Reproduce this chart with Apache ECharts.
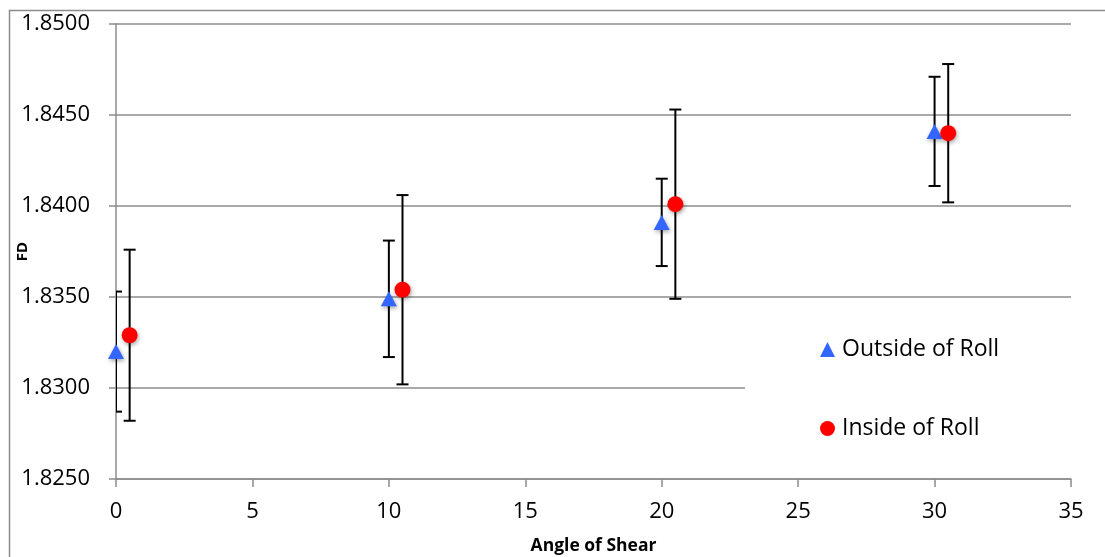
<!DOCTYPE html>
<html>
<head>
<meta charset="utf-8">
<script src="https://cdn.jsdelivr.net/npm/echarts@6/dist/echarts.min.js"></script>
<style>html,body{margin:0;padding:0;background:#fff}#c{width:1105px;height:557px}</style>
</head>
<body>
<div id="c"></div>
<script>
const xOutside = [0, 10, 20, 30];
const yOutside = [1.8320, 1.8349, 1.8391, 1.8441];
const errOutside = [0.0033, 0.0032, 0.0024, 0.0030];
const xInside = [0.5, 10.5, 20.5, 30.5];
const yInside = [1.8329, 1.8354, 1.8401, 1.8440];
const errInside = [0.0047, 0.0052, 0.0052, 0.0038];
const seriesNames = ['Outside of Roll', 'Inside of Roll'];
const xTitle = 'Angle of Shear';
const yTitle = 'FD';

const FONT = '"Open Sans", "Liberation Sans", sans-serif';
const gray = '#8c8c8c';

function errData(xs, ys, es) {
  return xs.map((x, i) => [x, ys[i] - es[i], ys[i] + es[i]]);
}
function renderErr(params, api) {
  const x = api.value(0);
  const lo = api.coord([x, api.value(1)]);
  const hi = api.coord([x, api.value(2)]);
  const hw = 6;
  const st = { stroke: '#000', lineWidth: 2 };
  return {
    type: 'group',
    children: [
      { type: 'line', shape: { x1: lo[0], y1: lo[1], x2: hi[0], y2: hi[1] }, style: st },
      { type: 'line', shape: { x1: lo[0] - hw, y1: lo[1], x2: lo[0] + hw, y2: lo[1] }, style: st },
      { type: 'line', shape: { x1: hi[0] - hw, y1: hi[1], x2: hi[0] + hw, y2: hi[1] }, style: st }
    ]
  };
}

const chart = echarts.init(document.getElementById('c'));
chart.setOption({
  animation: false,
  backgroundColor: '#fff',
  grid: { left: 116, right: 34, top: 24, bottom: 78, containLabel: false, outerBoundsMode: 'none' },
  graphic: [{
    type: 'rect', left: 7, top: 8, z: -1,
    shape: { x: 0, y: 0, width: 1120, height: 570 },
    style: { fill: 'none', stroke: gray, lineWidth: 1.5 }
  }],
  xAxis: {
    type: 'value', min: 0, max: 35, interval: 5,
    name: xTitle, nameLocation: 'middle', nameGap: 58, nameMoveOverlap: false,
    nameTextStyle: { fontFamily: FONT, fontSize: 17.5, fontWeight: 'bold', color: '#000' },
    axisLine: { show: true, onZero: false, lineStyle: { color: gray, width: 1.5 } },
    axisTick: { show: true, length: 8, lineStyle: { color: gray, width: 1.5 } },
    axisLabel: { fontFamily: FONT, fontSize: 22, color: '#000', margin: 22 },
    splitLine: { show: false }
  },
  yAxis: {
    type: 'value', min: 1.825, max: 1.85, interval: 0.005,
    name: yTitle, nameLocation: 'middle', nameGap: 86, nameRotate: 90, nameMoveOverlap: false,
    nameTextStyle: { fontFamily: FONT, fontSize: 15, fontWeight: 'bold', color: '#000' },
    axisLine: { show: true, lineStyle: { color: gray, width: 1.5 } },
    axisTick: { show: true, length: 7, lineStyle: { color: gray, width: 1.5 } },
    axisLabel: { fontFamily: FONT, fontSize: 22, color: '#000', margin: 26,
      formatter: v => v.toFixed(4) },
    splitLine: { show: true, lineStyle: { color: gray, width: 1.5 } }
  },
  legend: {
    orient: 'vertical', left: 745, top: 301,
    padding: [37, 120, 22, 75], itemGap: 56,
    backgroundColor: '#fff', itemWidth: 15, itemHeight: 15,
    textStyle: { fontFamily: FONT, fontSize: 23, color: '#000', padding: [0, 0, 0, 2] },
    data: [
      { name: seriesNames[0], icon: 'triangle', itemStyle: { color: '#3366ff', shadowBlur: 0 } },
      { name: seriesNames[1], icon: 'circle', itemStyle: { color: '#ff0000', shadowBlur: 0 } }
    ]
  },
  series: [
    { type: 'custom', name: 'errOut', clip: true, z: 2, renderItem: renderErr,
      data: errData(xOutside, yOutside, errOutside), encode: { x: 0, y: [1, 2] }, silent: true },
    { type: 'custom', name: 'errIn', clip: true, z: 2, renderItem: renderErr,
      data: errData(xInside, yInside, errInside), encode: { x: 0, y: [1, 2] }, silent: true },
    { type: 'scatter', name: seriesNames[0], z: 3, symbol: 'triangle', symbolSize: [16, 15],
      itemStyle: { color: '#3366ff', opacity: 1, shadowBlur: 4, shadowOffsetX: 1, shadowOffsetY: 2, shadowColor: 'rgba(0,0,0,0.35)' },
      data: xOutside.map((x, i) => [x, yOutside[i]]) },
    { type: 'scatter', name: seriesNames[1], z: 3, symbol: 'circle', symbolSize: 16,
      itemStyle: { color: '#ff0000', opacity: 1, shadowBlur: 4, shadowOffsetX: 1, shadowOffsetY: 2, shadowColor: 'rgba(0,0,0,0.35)' },
      data: xInside.map((x, i) => [x, yInside[i]]) }
  ]
});
</script>
</body>
</html>
